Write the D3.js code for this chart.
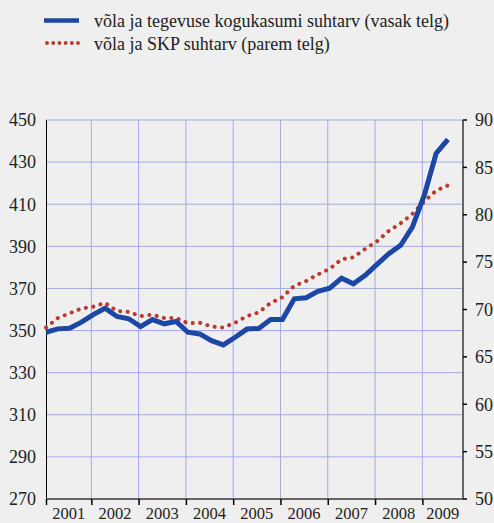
<!DOCTYPE html>
<html>
<head>
<meta charset="utf-8">
<script src="https://cdn.jsdelivr.net/npm/d3@7"></script>
<style>
  body { margin: 0; background: #efefef; }
  svg { display: block; font-family: "Liberation Serif", "DejaVu Serif", serif; }
  .y-label { font-size: 18px; fill: #222; }
  .x-label { font-size: 16.5px; fill: #222; }
  .legend-text { font-size: 18px; fill: #222; }
</style>
</head>
<body>
<div id="chart"></div>
<script>
// quarters on the x axis
const quarters = [
  "2001-Q1","2001-Q2","2001-Q3","2001-Q4",
  "2002-Q1","2002-Q2","2002-Q3","2002-Q4",
  "2003-Q1","2003-Q2","2003-Q3","2003-Q4",
  "2004-Q1","2004-Q2","2004-Q3","2004-Q4",
  "2005-Q1","2005-Q2","2005-Q3","2005-Q4",
  "2006-Q1","2006-Q2","2006-Q3","2006-Q4",
  "2007-Q1","2007-Q2","2007-Q3","2007-Q4",
  "2008-Q1","2008-Q2","2008-Q3","2008-Q4",
  "2009-Q1","2009-Q2","2009-Q3"
];

// debt to operating profit ratio (left axis)
const debtProfit = [
  349.2, 350.8, 351.1, 354.0, 357.6, 360.6, 356.7, 355.6,
  351.9, 355.2, 353.2, 354.3, 349.2, 348.4, 345.2, 343.2,
  346.8, 350.7, 351.0, 355.2, 355.2, 365.1, 365.6, 368.6,
  370.1, 374.9, 372.2, 376.2, 381.4, 386.5, 390.5, 399.2,
  414.3, 434.1, 440.8
];

// debt to GDP ratio (right axis)
const debtGdp = [
  68.1, 69.1, 69.6, 70.1, 70.3, 70.7, 69.85, 69.75,
  69.3, 69.45, 69.1, 69.1, 68.55, 68.6, 68.2, 68.1,
  68.6, 69.3, 69.7, 70.7, 71.3, 72.5, 73.0, 73.7,
  74.3, 75.3, 75.5, 76.4, 77.2, 78.3, 79.1, 80.1,
  81.4, 82.55, 83.1
];

const years = [2001, 2002, 2003, 2004, 2005, 2006, 2007, 2008, 2009];
const leftTicks = [270, 290, 310, 330, 350, 370, 390, 410, 430, 450];
const rightTicks = [50, 55, 60, 65, 70, 75, 80, 85, 90];
const legendLabels = [
  "võla ja tegevuse kogukasumi suhtarv (vasak telg)",
  "võla ja SKP suhtarv (parem telg)"
];

const W = 494, H = 523;
const plot = {left: 46, right: 463, top: 120, bottom: 499};

const blue = "#1c47a5";
const red = "#bb3a2e";
const gridColor = "#a4aae0";

// quarter -> decimal year (points sit a little after the start of the quarter)
const qTime = q => {
  const [y, qq] = q.split("-Q");
  return +y + (+qq - 1) / 4 + 1 / 24;
};

const svg = d3.select("#chart")
  .append("svg")
    .attr("width", W)
    .attr("height", H);

svg.append("rect")
    .attr("width", W)
    .attr("height", H)
    .attr("fill", "#efefef");

const x = d3.scaleLinear()
    .domain([qTime(quarters[0]), 2009.86])
    .range([plot.left, plot.right]);

const yL = d3.scaleLinear()
    .domain([270, 450])
    .range([plot.bottom, plot.top]);

const yR = d3.scaleLinear()
    .domain([50, 90])
    .range([plot.bottom, plot.top]);

// horizontal grid
svg.append("g")
  .selectAll("line")
  .data(leftTicks.slice(1))
  .join("line")
    .attr("x1", plot.left)
    .attr("x2", plot.right)
    .attr("y1", d => yL(d))
    .attr("y2", d => yL(d))
    .attr("stroke", gridColor)
    .attr("stroke-width", 1);

// vertical grid on year boundaries
svg.append("g")
  .selectAll("line")
  .data(years.slice(1))
  .join("line")
    .attr("x1", d => x(d))
    .attr("x2", d => x(d))
    .attr("y1", plot.top)
    .attr("y2", plot.bottom)
    .attr("stroke", gridColor)
    .attr("stroke-width", 1);

// left axis
svg.append("line")
    .attr("x1", plot.left + 0.5).attr("x2", plot.left + 0.5)
    .attr("y1", plot.top).attr("y2", plot.bottom)
    .attr("stroke", "#000");

svg.append("g")
  .selectAll("text")
  .data(leftTicks)
  .join("text")
    .attr("class", "y-label")
    .attr("x", 36)
    .attr("y", d => yL(d))
    .attr("dy", "0.35em")
    .attr("text-anchor", "end")
    .text(d => d);

// right axis
svg.append("line")
    .attr("x1", plot.right).attr("x2", plot.right)
    .attr("y1", plot.top).attr("y2", plot.bottom)
    .attr("stroke", "#666")
    .attr("stroke-width", 2);

svg.append("g")
  .selectAll("line")
  .data(rightTicks)
  .join("line")
    .attr("x1", plot.right)
    .attr("x2", plot.right + 4)
    .attr("y1", d => yR(d))
    .attr("y2", d => yR(d))
    .attr("stroke", "#000")
    .attr("stroke-width", 1.5);

svg.append("g")
  .selectAll("text")
  .data(rightTicks)
  .join("text")
    .attr("class", "y-label")
    .attr("x", 475)
    .attr("y", d => yR(d))
    .attr("dy", "0.35em")
    .attr("text-anchor", "start")
    .text(d => d);

// bottom axis
svg.append("line")
    .attr("x1", plot.left).attr("x2", plot.right)
    .attr("y1", plot.bottom).attr("y2", plot.bottom)
    .attr("stroke", "#666")
    .attr("stroke-width", 2);

svg.append("g")
  .selectAll("line")
  .data([x.domain()[0]].concat(years.slice(1)))
  .join("line")
    .attr("x1", d => x(d) + 0.5)
    .attr("x2", d => x(d) + 0.5)
    .attr("y1", plot.bottom)
    .attr("y2", plot.bottom + 6)
    .attr("stroke", "#000")
    .attr("stroke-width", 1.5);

svg.append("g")
  .selectAll("text")
  .data(years)
  .join("text")
    .attr("class", "x-label")
    .attr("x", d => (x(Math.max(d, x.domain()[0])) + x(Math.min(d + 1, x.domain()[1]))) / 2)
    .attr("y", 519)
    .attr("text-anchor", "middle")
    .text(d => d);

// lines
const lineL = d3.line()
    .x((d, i) => x(qTime(quarters[i])))
    .y(d => yL(d));

const lineR = d3.line()
    .x((d, i) => x(qTime(quarters[i])))
    .y(d => yR(d));

svg.append("path")
    .datum(debtGdp)
    .attr("d", lineR)
    .attr("fill", "none")
    .attr("stroke", red)
    .attr("stroke-width", 4)
    .attr("stroke-linecap", "round")
    .attr("stroke-dasharray", "0.1 7.4");

svg.append("path")
    .datum(debtProfit)
    .attr("d", lineL)
    .attr("fill", "none")
    .attr("stroke", blue)
    .attr("stroke-width", 5)
    .attr("stroke-linejoin", "miter");

// legend
const legend = svg.append("g");

legend.append("line")
    .attr("x1", 44).attr("x2", 79)
    .attr("y1", 20.5).attr("y2", 20.5)
    .attr("stroke", blue)
    .attr("stroke-width", 4.5);

legend.append("line")
    .attr("x1", 47).attr("x2", 78)
    .attr("y1", 43).attr("y2", 43)
    .attr("stroke", red)
    .attr("stroke-width", 3.8)
    .attr("stroke-linecap", "round")
    .attr("stroke-dasharray", "0.1 6.1");

legend.selectAll("text")
  .data(legendLabels)
  .join("text")
    .attr("class", "legend-text")
    .attr("x", 94)
    .attr("y", (d, i) => 21 + i * 22.5)
    .attr("dy", "0.35em")
    .text(d => d);
</script>
</body>
</html>
